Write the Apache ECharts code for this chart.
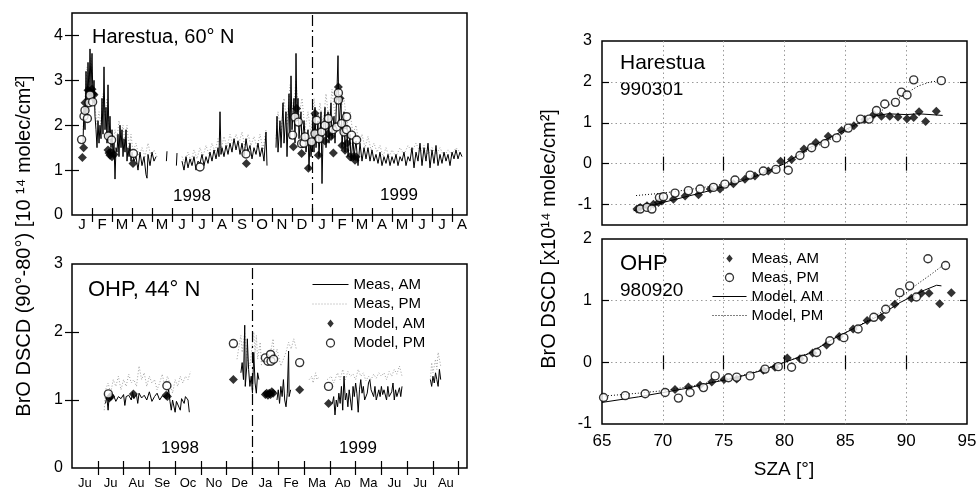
<!DOCTYPE html>
<html><head><meta charset="utf-8">
<script src="https://cdn.jsdelivr.net/npm/echarts@6/dist/echarts.min.js"></script>
<style>html,body{margin:0;padding:0;background:#fff}#c{width:978px;height:487px}</style>
</head><body><div id="c"></div>
<script>
// ---------- tick labels / categories ----------
const harMonths = ['J','F','M','A','M','J','J','A','S','O','N','D','J','F','M','A','M','J','J','A']; // from Jan 1998
const ohpMonths = ['Ju','Ju','Au','Se','Oc','No','De','Ja','Fe','Ma','Ap','Ma','Ju','Ju','Au']; // from Jun 1998
const harYLabels = [0,1,2,3,4];
const ohpYLabels = [0,1,2,3];
const szaLabels = [65,70,75,80,85,90,95];
const szaHarYLabels = [-1,0,1,2,3];
const szaOhpYLabels = [-1,0,1,2];
const harYearBoundary = 12; // months since Jan 1998
const ohpYearBoundary = 7;  // months since Jun 1998

// ---------- Harestua time series (x = months since 1 Jan 1998) ----------
const harMeasAM = [
 [[0.55,1.6],[0.6,2.4],[0.65,1.9],[0.7,3.2],[0.75,2.3],[0.8,3.4],[0.85,2.6],[0.9,3.7],[0.95,2.8],[1.0,3.6],[1.05,2.5],[1.1,3.0],[1.15,2.2],[1.2,1.9],[1.25,1.5],[1.3,2.1],[1.35,1.6],[1.4,2.0],[1.45,1.7],[1.5,2.6],[1.55,1.8],[1.6,3.3],[1.65,1.9],[1.7,2.4],[1.75,1.6],[1.8,2.9],[1.85,1.7],[1.9,2.2],[1.95,1.5],[2.0,1.9],[2.05,1.3],[2.1,1.6],[2.15,0.8],[2.2,1.5],[2.25,1.4],[2.3,1.8],[2.35,1.3],[2.4,2.0],[2.45,1.5],[2.5,1.9],[2.55,1.3],[2.6,1.7],[2.65,1.4],[2.7,1.9],[2.75,1.2],[2.8,1.5],[2.85,1.3],[2.9,1.6],[2.95,1.2],[3.0,1.4],[3.1,1.2],[3.2,1.3],[3.3,1.0],[3.4,1.4],[3.5,1.1],[3.6,1.3],[3.7,0.9],[3.75,0.82],[3.8,1.35],[3.9,1.1],[4.0,1.4],[4.1,1.2],[4.2,1.3]],
 [[4.72,1.2],[4.75,1.42]],
 [[5.22,1.1],[5.25,1.38]],
 [[5.5,1.2],[5.6,1.0],[5.7,1.3],[5.8,1.05],[5.9,1.25],[6.0,1.1],[6.1,1.3],[6.2,1.0],[6.3,1.2],[6.4,1.15],[6.5,1.35],[6.6,1.1],[6.7,1.3],[6.8,1.15],[6.9,1.4],[7.0,1.2],[7.1,1.45],[7.2,1.25],[7.3,1.5],[7.35,1.3],[7.4,2.3],[7.45,1.35],[7.5,1.5],[7.6,1.3],[7.7,1.55],[7.8,1.35],[7.9,1.6],[8.0,1.4],[8.1,1.7],[8.2,1.45],[8.3,1.65],[8.4,1.35],[8.5,1.6],[8.6,1.3],[8.7,1.7],[8.8,1.4],[8.9,1.55],[9.0,1.25],[9.1,1.5],[9.2,1.35],[9.3,1.6],[9.4,1.3],[9.5,1.5],[9.6,1.2],[9.7,1.85],[9.75,1.1]],
 [[10.2,1.5],[10.25,2.2],[10.3,1.4],[10.4,2.1],[10.45,1.5],[10.55,2.5],[10.6,1.6],[10.7,2.3],[10.75,1.3],[10.85,2.7],[10.9,1.7],[10.95,3.1],[11.0,1.9],[11.1,2.6],[11.15,1.6],[11.2,3.6],[11.25,2.1],[11.3,2.6],[11.35,1.7],[11.45,2.3],[11.5,1.5],[11.6,2.1],[11.7,1.4],[11.8,1.9],[11.85,1.0],[11.9,1.7],[11.95,1.3],[12.0,1.6],[12.05,2.2],[12.1,1.4],[12.15,2.4],[12.2,1.5],[12.3,2.1],[12.35,1.3],[12.45,2.3],[12.5,0.7],[12.55,1.7],[12.65,2.4],[12.7,1.5],[12.8,2.3],[12.85,1.6],[12.95,2.5],[13.0,1.7],[13.1,2.2],[13.15,1.6],[13.25,2.8],[13.3,3.55],[13.35,2.0],[13.45,2.6],[13.5,1.5],[13.6,2.3],[13.65,1.4],[13.75,2.0],[13.8,1.3],[13.9,1.8],[13.95,1.2],[14.05,1.7],[14.1,1.3],[14.2,1.65],[14.3,1.1],[14.4,1.6],[14.5,1.2],[14.6,1.5],[14.7,1.25],[14.8,1.5],[14.9,1.2],[15.0,1.45],[15.1,1.2],[15.2,1.35],[15.3,1.15],[15.4,1.4],[15.5,1.1],[15.6,1.3],[15.7,1.15],[15.8,1.35],[15.9,1.1],[16.0,1.3],[16.1,1.15],[16.2,1.35],[16.3,1.1],[16.4,1.3],[16.5,1.2],[16.6,1.4],[16.7,1.1],[16.8,1.3],[16.9,1.2],[17.0,1.5],[17.1,1.05],[17.2,1.4],[17.3,1.2],[17.4,1.6],[17.5,1.1],[17.6,1.5],[17.7,1.2],[17.8,1.6],[17.9,1.05],[18.0,1.45],[18.1,1.15],[18.2,1.55],[18.3,1.1],[18.4,1.35],[18.5,1.15],[18.6,1.4],[18.7,1.2],[18.8,1.35],[18.9,1.1],[19.0,1.4],[19.1,1.25],[19.2,1.45],[19.3,1.25],[19.4,1.4],[19.5,1.3]]
];
const harMeasPM = [
 [[0.55,1.9],[0.65,2.6],[0.75,3.3],[0.85,2.9],[0.95,3.5],[1.05,2.9],[1.15,2.4],[1.25,2.0],[1.35,2.3],[1.45,2.0],[1.55,2.7],[1.65,2.2],[1.75,2.6],[1.85,2.0],[1.95,1.8],[2.05,1.6],[2.15,1.9],[2.25,1.7],[2.35,2.1],[2.45,1.8],[2.55,2.0],[2.65,1.6],[2.75,2.0],[2.85,1.5],[2.95,1.8],[3.05,1.4],[3.2,1.6],[3.35,1.3],[3.5,1.5],[3.65,1.3],[3.8,1.6],[3.95,1.3],[4.1,1.45],[4.25,1.3]],
 [[5.5,1.3],[5.65,1.15],[5.8,1.4],[5.95,1.2],[6.1,1.45],[6.25,1.25],[6.4,1.5],[6.55,1.3],[6.7,1.55],[6.85,1.35],[7.0,1.6],[7.15,1.4],[7.3,1.7],[7.45,1.45],[7.6,1.75],[7.75,1.5],[7.9,1.8],[8.05,1.55],[8.2,1.8],[8.35,1.6],[8.5,1.85],[8.65,1.5],[8.8,1.8],[8.95,1.55],[9.1,1.75],[9.25,1.5],[9.4,1.8],[9.55,1.45],[9.7,1.9]],
 [[10.2,1.7],[10.3,2.3],[10.45,1.8],[10.6,2.6],[10.75,2.0],[10.9,2.9],[11.05,2.3],[11.2,3.0],[11.35,2.2],[11.5,2.6],[11.65,1.9],[11.8,2.3],[11.95,1.8],[12.1,2.6],[12.25,1.9],[12.4,2.5],[12.55,2.0],[12.7,2.7],[12.85,2.1],[13.0,2.8],[13.15,2.2],[13.3,3.0],[13.45,2.4],[13.6,2.6],[13.75,2.0],[13.9,2.3],[14.05,1.8],[14.2,2.0],[14.35,1.6],[14.5,1.8],[14.65,1.5],[14.8,1.75],[14.95,1.45],[15.1,1.6],[15.25,1.4],[15.4,1.55],[15.55,1.3],[15.7,1.5],[15.85,1.3],[16.0,1.45],[16.2,1.3],[16.4,1.5],[16.6,1.35],[16.8,1.55],[17.0,1.4],[17.2,1.6],[17.4,1.4],[17.6,1.55],[17.8,1.35],[18.0,1.5],[18.2,1.35],[18.4,1.5],[18.6,1.3],[18.8,1.45],[19.0,1.35],[19.2,1.5],[19.4,1.4]]
];
const harModelAM = [[0.52,1.28],[0.58,1.5],[0.65,2.5],[0.8,2.78],[0.9,2.75],[0.95,2.72],[1.0,2.8],[1.05,2.7],[1.1,2.68],[1.8,1.45],[1.85,1.38],[1.9,1.33],[1.95,1.4],[2.0,1.3],[2.1,1.35],[3.05,1.15],[8.72,1.15],[11.07,1.52],[11.23,2.37],[11.48,1.37],[11.82,1.04],[12.15,2.26],[12.32,1.33],[12.65,1.65],[12.82,1.81],[12.95,1.75],[13.07,1.38],[13.32,2.85],[13.4,2.6],[13.5,1.55],[13.65,1.44],[13.75,1.6],[13.9,1.3],[14.07,1.3],[14.15,1.22],[14.2,1.3]];
const harModelPM = [[0.48,1.68],[0.6,2.2],[0.65,2.33],[0.77,2.15],[0.85,2.5],[0.9,2.67],[1.03,2.52],[1.82,1.76],[1.98,1.67],[3.07,1.37],[6.4,1.07],[8.7,1.36],[11.03,1.78],[11.15,2.18],[11.32,2.07],[11.48,1.59],[11.6,1.6],[11.65,1.74],[11.98,1.63],[12.15,1.81],[12.23,2.11],[12.35,1.7],[12.48,1.85],[12.65,2.0],[12.82,2.15],[13.05,1.9],[13.23,1.96],[13.32,2.56],[13.32,2.72],[13.48,2.04],[13.6,1.85],[13.73,2.19],[13.73,1.9],[13.98,1.78],[14.23,1.67]];

// ---------- OHP time series (x = months since 1 Jun 1998) ----------
const ohpMeasAM = [
 [[1.3,0.95],[1.35,1.05],[1.4,0.85],[1.45,1.1],[1.5,1.0],[1.6,1.08],[1.7,0.98],[1.8,1.05],[1.9,1.02],[2.0,1.08],[2.05,0.92],[2.1,1.05],[2.2,1.07],[2.3,1.0],[2.35,1.12],[2.4,1.02],[2.5,1.08],[2.55,0.95],[2.6,1.1],[2.7,1.03],[2.8,1.07],[2.9,1.0],[3.0,1.12],[3.1,0.98],[3.2,1.05],[3.3,1.1],[3.4,1.0],[3.5,1.06],[3.6,1.04],[3.7,1.08],[3.75,1.15],[3.8,0.98],[3.85,0.85],[3.9,1.0],[4.0,0.82],[4.05,0.98],[4.1,1.0],[4.2,0.85],[4.25,1.02],[4.35,0.95],[4.4,1.05],[4.5,1.0],[4.55,0.82]],
 [[6.55,1.4],[6.6,1.55],[6.65,1.3],[6.7,2.1],[6.72,1.2],[6.78,1.5],[6.8,1.9],[6.85,1.45],[6.9,1.2],[6.95,1.35],[7.0,1.1],[7.05,1.7],[7.1,1.25],[7.15,1.1],[7.2,1.4],[7.25,1.3]],
 [[7.95,1.0],[8.0,1.15],[8.05,0.95],[8.1,1.2],[8.15,1.05],[8.2,1.3],[8.25,1.0],[8.3,0.9],[8.35,1.1],[8.4,1.72],[8.42,1.05],[8.48,1.15]],
 [[10.1,0.95],[10.15,1.05],[10.2,0.78],[10.25,1.0],[10.3,0.9],[10.35,1.1],[10.4,0.95],[10.45,1.2],[10.5,0.85],[10.55,1.35],[10.6,1.0],[10.65,1.1],[10.7,0.9],[10.75,1.15],[10.8,1.0],[10.85,0.85],[10.9,1.2],[10.95,1.05],[11.0,1.25],[11.05,1.1],[11.1,0.82],[11.15,1.15],[11.2,1.3],[11.25,1.1],[11.3,1.2],[11.35,1.0],[11.45,1.1],[11.5,1.25],[11.55,1.3],[11.6,1.15],[11.7,1.05],[11.75,1.2],[11.8,1.0],[11.9,1.15],[11.95,1.05],[12.0,1.2],[12.05,1.08],[12.1,1.15],[12.2,1.0],[12.25,1.2],[12.3,1.05],[12.4,1.12],[12.45,1.25],[12.5,1.0],[12.55,1.15],[12.6,1.05],[12.7,1.18],[12.75,1.05],[12.8,1.2]],
 [[13.9,1.3],[13.95,1.2],[14.0,1.35],[14.05,1.25],[14.1,1.4],[14.15,1.3],[14.2,1.2],[14.25,1.45],[14.3,1.3]]
];
const ohpMeasPM = [
 [[1.25,0.85],[1.3,1.15],[1.4,1.25],[1.5,1.1],[1.6,1.3],[1.7,1.2],[1.8,1.35],[1.9,1.15],[2.0,1.3],[2.1,1.2],[2.2,1.38],[2.3,1.25],[2.4,1.3],[2.5,1.2],[2.6,1.5],[2.7,1.3],[2.8,1.4],[2.9,1.2],[3.0,1.35],[3.1,1.25],[3.2,1.3],[3.3,1.15],[3.4,1.25],[3.5,1.38],[3.6,1.2],[3.7,1.35],[3.8,1.25],[3.9,1.1],[4.0,1.3],[4.1,1.2],[4.2,1.35],[4.3,1.25],[4.4,1.35],[4.5,1.3],[4.6,1.42]],
 [[6.4,1.6],[6.5,1.85],[6.55,1.95],[6.6,1.7],[6.7,2.0],[6.8,1.6],[6.9,1.5],[7.05,2.0],[7.1,1.7],[7.15,1.95],[7.2,1.6],[7.3,1.85],[7.35,1.5]],
 [[7.7,1.7],[7.8,1.9],[7.85,1.6],[7.95,1.75],[8.1,1.5],[8.3,1.7],[8.4,1.85],[8.5,1.75],[8.6,1.9],[8.7,1.75]],
 [[9.2,1.3],[9.3,1.35],[9.35,1.25],[9.45,1.4],[9.5,1.3],[9.6,1.35]],
 [[9.9,1.3],[10.05,1.35],[10.15,1.25],[10.3,1.4],[10.4,1.3],[10.5,1.45],[10.6,1.3],[10.7,1.42],[10.8,1.35],[10.9,1.38],[11.0,1.3],[11.1,1.45],[11.2,1.35],[11.3,1.4],[11.4,1.28],[11.5,1.35],[11.6,1.3],[11.7,1.38],[11.8,1.32],[11.9,1.4],[12.0,1.35],[12.1,1.4],[12.2,1.3],[12.3,1.42],[12.4,1.35],[12.5,1.45],[12.6,1.38],[12.7,1.5],[12.8,1.35]],
 [[13.9,1.3],[13.95,1.55],[14.0,1.4],[14.1,1.6],[14.15,1.45],[14.2,1.7],[14.3,1.5]]
];
const ohpModelAM = [[1.45,1.03],[1.5,1.05],[2.38,1.09],[3.65,1.07],[3.7,1.05],[6.26,1.3],[7.5,1.08],[7.55,1.1],[7.6,1.07],[7.65,1.1],[7.7,1.08],[7.75,1.12],[7.8,1.1],[8.83,1.15],[9.95,0.95]];
const ohpModelPM = [[1.41,1.09],[3.68,1.21],[6.26,1.83],[7.5,1.62],[7.6,1.57],[7.7,1.67],[7.72,1.57],[7.82,1.6],[8.83,1.55],[9.95,1.2]];

// ---------- SZA dependence, Harestua 990301 ----------
const szaHarMeasAM = [[67.87,-1.11],[68.14,-1.07],[68.7,-1.03],[69.23,-0.99],[69.64,-0.95],[69.92,-0.91],[70.87,-0.87],[71.83,-0.79],[72.93,-0.76],[73.9,-0.62],[74.7,-0.62],[75.8,-0.49],[76.75,-0.38],[77.57,-0.30],[78.67,-0.18],[79.68,0.06],[80.58,0.10],[81.6,0.36],[82.58,0.52],[83.59,0.67],[84.69,0.81],[85.7,0.93],[86.6,1.08],[87.34,1.2],[87.97,1.16],[88.65,1.16],[89.33,1.14],[90.07,1.1],[90.62,1.13],[91.06,1.27],[91.6,1.03],[92.48,1.28]];
const szaHarMeasPM = [[68.14,-1.11],[68.7,-1.07],[69.1,-1.11],[69.72,-0.83],[70.05,-0.81],[71.0,-0.72],[72.1,-0.66],[73.06,-0.62],[74.16,-0.58],[75.1,-0.50],[75.93,-0.40],[77.17,-0.28],[78.26,-0.18],[79.3,-0.14],[80.31,-0.16],[81.27,0.20],[82.23,0.39],[83.32,0.49],[84.28,0.63],[85.24,0.87],[86.25,1.09],[86.95,1.09],[87.56,1.30],[88.24,1.46],[89.12,1.50],[89.61,1.75],[90.07,1.68],[90.62,2.05],[92.89,2.03]];
const szaHarModelAM = [[67.6,-1.15],[70,-0.95],[72,-0.8],[74,-0.65],[76,-0.47],[78,-0.27],[80,0.0],[82,0.38],[84,0.68],[86,0.98],[87.5,1.17],[88.5,1.22],[90,1.2],[91,1.22],[93,1.18]];
const szaHarModelPM = [[67.8,-0.78],[70,-0.72],[72,-0.64],[74,-0.55],[76,-0.43],[78,-0.25],[80,0.0],[82,0.33],[84,0.63],[86,0.95],[88,1.3],[89,1.52],[90,1.72],[91,1.9],[92,2.0],[92.8,2.02]];

// ---------- SZA dependence, OHP 980920 ----------
const szaOhpMeasAM = [[71.0,-0.44],[72.1,-0.40],[73.06,-0.37],[74.02,-0.32],[75.03,-0.28],[76.07,-0.27],[78.26,-0.13],[79.22,-0.08],[80.23,0.07],[81.27,0.06],[82.31,0.15],[83.46,0.28],[84.5,0.42],[85.64,0.54],[86.79,0.68],[87.97,0.73],[89.06,0.94],[90.43,1.04],[91.25,1.12],[91.88,1.12],[92.75,0.95],[93.71,1.13]];
const szaOhpMeasPM = [[65.13,-0.57],[66.91,-0.54],[68.55,-0.51],[70.19,-0.49],[71.28,-0.58],[72.24,-0.49],[73.34,-0.41],[74.3,-0.22],[75.39,-0.25],[76.07,-0.24],[77.17,-0.22],[78.4,-0.11],[79.49,-0.07],[80.58,-0.08],[81.54,0.05],[82.64,0.16],[83.73,0.35],[84.88,0.40],[86.05,0.54],[87.34,0.73],[88.32,0.86],[89.47,1.13],[90.29,1.24],[90.84,1.06],[91.79,1.68],[93.24,1.57]];
const szaOhpModelAM = [[65,-0.65],[68,-0.56],[70,-0.49],[72,-0.42],[74,-0.33],[76,-0.25],[78,-0.14],[80,0.0],[82,0.14],[84,0.38],[86,0.58],[88,0.78],[89.5,0.97],[90.5,1.07],[91.5,1.17],[92.5,1.25],[92.9,1.24]];
const szaOhpModelPM = [[65,-0.55],[68,-0.5],[70,-0.46],[72,-0.4],[74,-0.32],[76,-0.24],[78,-0.13],[80,0.0],[82,0.15],[84,0.38],[86,0.58],[88,0.82],[89.5,1.05],[91,1.28],[92,1.42],[93.2,1.6]];

// ---------- build chart ----------
const BLK = '#000';
const FONT = '"Liberation Sans", Arial, Helvetica, sans-serif';
const range = (a, b) => { const r = []; for (let i = a; i <= b; i++) r.push(i); return r; };

function grid(l, t, w, h) {
  return {left: l, top: t, width: w, height: h, show: true, borderColor: BLK, borderWidth: 1.5,
          backgroundColor: 'transparent', containLabel: false, outerBoundsMode: 'none'};
}
function axis(type, gi, pos, min, max, ticks, labels, fmt, fs, margin, extra) {
  const a = {type: 'value', gridIndex: gi, position: pos, min: min, max: max,
    axisLine: {show: false},
    axisTick: {show: true, inside: true, length: 7, customValues: ticks, lineStyle: {color: BLK, width: 1.2}},
    axisLabel: labels ? {show: true, customValues: labels, formatter: fmt, color: BLK, fontFamily: FONT, fontSize: fs, margin: margin}
                      : {show: false},
    splitLine: {show: false}};
  return Object.assign(a, extra || {});
}
const dotSplit = {splitLine: {show: true, lineStyle: {color: '#9a9a9a', type: [1.5, 3], width: 1}}};

const harTicks = range(1, 19);
const harLabelPos = harMonths.map((m, i) => i + 0.5);
const ohpTicks = range(1, 15);
const ohpLabelPos = ohpMonths.map((m, i) => i + 0.5);

const xAxis = [
  axis('x', 0, 'bottom', 0, 19.75, harTicks, harLabelPos, v => harMonths[Math.floor(v)], 15, 2),
  axis('x', 0, 'top', 0, 19.75, harTicks, null),
  axis('x', 1, 'bottom', 0, 15.32, ohpTicks, ohpLabelPos, v => ohpMonths[Math.floor(v)], 13, 9),
  axis('x', 1, 'top', 0, 15.32, ohpTicks, null),
  axis('x', 2, 'bottom', 65, 95, [70,75,80,85,90], null, null, 0, 0, Object.assign({splitNumber: 6}, dotSplit)),
  axis('x', 2, 'top', 65, 95, [70,75,80,85,90], null),
  axis('x', 3, 'bottom', 65, 95, [70,75,80,85,90], szaLabels, v => String(v), 17, 9, Object.assign({splitNumber: 6}, dotSplit)),
  axis('x', 3, 'top', 65, 95, [70,75,80,85,90], null)
];
const yAxis = [
  axis('y', 0, 'left', 0, 4.5, [1,2,3,4], harYLabels, v => String(v), 16, 9),
  axis('y', 0, 'right', 0, 4.5, [1,2,3,4], null),
  axis('y', 1, 'left', 0, 3, [1,2], ohpYLabels, v => String(v), 16, 9),
  axis('y', 1, 'right', 0, 3, [1,2], null),
  axis('y', 2, 'left', -1.5, 3, [-1,0,1,2], szaHarYLabels, v => String(v), 16, 10, Object.assign({splitNumber: 4}, dotSplit)),
  axis('y', 2, 'right', -1.5, 3, [-1,0,1,2], null),
  axis('y', 3, 'left', -1, 2, [0,1], szaOhpYLabels, v => String(v), 16, 10, Object.assign({splitNumber: 3}, dotSplit)),
  axis('y', 3, 'right', -1, 2, [0,1], null)
];

const series = [];
const solidLine = {color: BLK, width: 1};
const dottedGray = {color: '#a0a0a0', width: 1, type: [1, 2]};
const dottedBlack = {color: BLK, width: 1, type: [1, 2]};
const diamond = {type: 'scatter', symbol: 'diamond', symbolSize: 9, itemStyle: {color: BLK}};
const openCircle = {type: 'scatter', symbol: 'circle', symbolSize: 8, itemStyle: {color: '#fff', borderColor: BLK, borderWidth: 1.4}};
function lineS(name, xi, data, style) {
  return {type: 'line', name: name, xAxisIndex: xi, yAxisIndex: xi, data: data, symbol: 'none', lineStyle: style,
          itemStyle: {color: style.color}, silent: true, z: 2};
}
function scat(name, xi, data, proto) {
  return Object.assign({}, proto, {name: name, xAxisIndex: xi, yAxisIndex: xi, data: data, silent: true, z: 5});
}
function yearMark(v) {
  return {silent: true, symbol: 'none', label: {show: false}, animation: false,
          lineStyle: {color: BLK, width: 1.2, type: [11, 4, 2, 4]}, data: [{xAxis: v}]};
}

// Harestua panel (axes 0)
harMeasPM.forEach(seg => series.push(lineS('Meas, PM', 0, seg, dottedGray)));
harMeasAM.forEach(seg => series.push(lineS('Meas, AM', 0, seg, solidLine)));
series[series.length - 1].markLine = yearMark(harYearBoundary);
series.push(scat('Model, AM', 0, harModelAM, diamond));
series.push(scat('Model, PM', 0, harModelPM, openCircle));
// OHP panel (axes 2)
ohpMeasPM.forEach(seg => series.push(lineS('Meas, PM', 2, seg, dottedGray)));
ohpMeasAM.forEach(seg => series.push(lineS('Meas, AM', 2, seg, solidLine)));
series[series.length - 1].markLine = yearMark(ohpYearBoundary);
series.push(scat('Model, AM', 2, ohpModelAM, diamond));
series.push(scat('Model, PM', 2, ohpModelPM, openCircle));
// SZA Harestua (axes 4)
series.push(lineS('R|Model, AM', 4, szaHarModelAM, solidLine));
series.push(lineS('R|Model, PM', 4, szaHarModelPM, dottedBlack));
series.push(scat('R|Meas, AM', 4, szaHarMeasAM, diamond));
series.push(scat('R|Meas, PM', 4, szaHarMeasPM, openCircle));
// SZA OHP (axes 6)
series.push(lineS('R|Model, AM', 6, szaOhpModelAM, solidLine));
series.push(lineS('R|Model, PM', 6, szaOhpModelPM, dottedBlack));
series.push(scat('R|Meas, AM', 6, szaOhpMeasAM, diamond));
series.push(scat('R|Meas, PM', 6, szaOhpMeasPM, openCircle));

const legendBase = {orient: 'vertical', itemWidth: 36, itemHeight: 8, selectedMode: false, symbolKeepAspect: true,
  textStyle: {color: BLK, fontFamily: FONT, fontSize: 15, lineHeight: 15}, padding: 0};
const noSym = {opacity: 0};
const diamondIcon = 'path://M0,-5L4,0L0,5L-4,0Z';
function lineItem(n, style) { return {name: n, itemStyle: noSym, lineStyle: style}; }
function diaItem(n) { return {name: n, icon: diamondIcon, symbolKeepAspect: true, itemStyle: {color: BLK}}; }
function circItem(n) { return {name: n, icon: 'circle', symbolKeepAspect: true, itemStyle: {color: '#fff', borderColor: BLK, borderWidth: 1.3}}; }

function txt(t, x, y, fs, align, rot) {
  return {type: 'text', x: x, y: y, rotation: rot || 0, silent: true,
    style: {text: t, fontSize: fs, fontFamily: FONT, fill: BLK, align: align || 'left', verticalAlign: 'middle'}};
}

const option = {
  animation: false,
  backgroundColor: '#fff',
  grid: [grid(72, 13, 395, 202), grid(72, 264, 395, 204), grid(602, 41, 365, 184), grid(602, 239, 365, 185)],
  xAxis: xAxis,
  yAxis: yAxis,
  legend: [
    Object.assign({}, legendBase, {left: 312, top: 277, itemGap: 4.5,
      data: [lineItem('Meas, AM', {width: 1, color: BLK}), lineItem('Meas, PM', {width: 1, color: '#a0a0a0', type: [1, 2]}),
             diaItem('Model, AM'), circItem('Model, PM')]}),
    Object.assign({}, legendBase, {left: 712, top: 251, itemGap: 4, itemWidth: 34,
      data: [diaItem('R|Meas, AM'), circItem('R|Meas, PM'),
             lineItem('R|Model, AM', {width: 1, color: BLK}), lineItem('R|Model, PM', {width: 1, color: BLK, type: [1, 2]})],
      formatter: n => n.replace('R|', '')})
  ],
  series: series,
  graphic: [
    txt('Harestua, 60° N', 92, 37, 20),
    txt('1998', 192, 196, 17, 'center'),
    txt('1999', 399, 195, 17, 'center'),
    txt('OHP, 44° N', 88, 290, 22),
    txt('1998', 180, 448, 17, 'center'),
    txt('1999', 358, 448, 17, 'center'),
    txt('Harestua', 620, 63, 21),
    txt('990301', 620, 90, 19),
    txt('OHP', 620, 264, 22),
    txt('980920', 620, 291, 19),
    txt('SZA [°]', 784, 470, 19, 'center'),
    txt('BrO DSCD (90°-80°) [10 ¹⁴ molec/cm²]', 24, 246, 20, 'center', Math.PI / 2),
    txt('BrO DSCD [x10¹⁴ molec/cm²]', 549, 239, 20, 'center', Math.PI / 2)
  ]
};

const chart = echarts.init(document.getElementById('c'), null, {renderer: 'canvas'});
chart.setOption(option);
</script></body></html>
